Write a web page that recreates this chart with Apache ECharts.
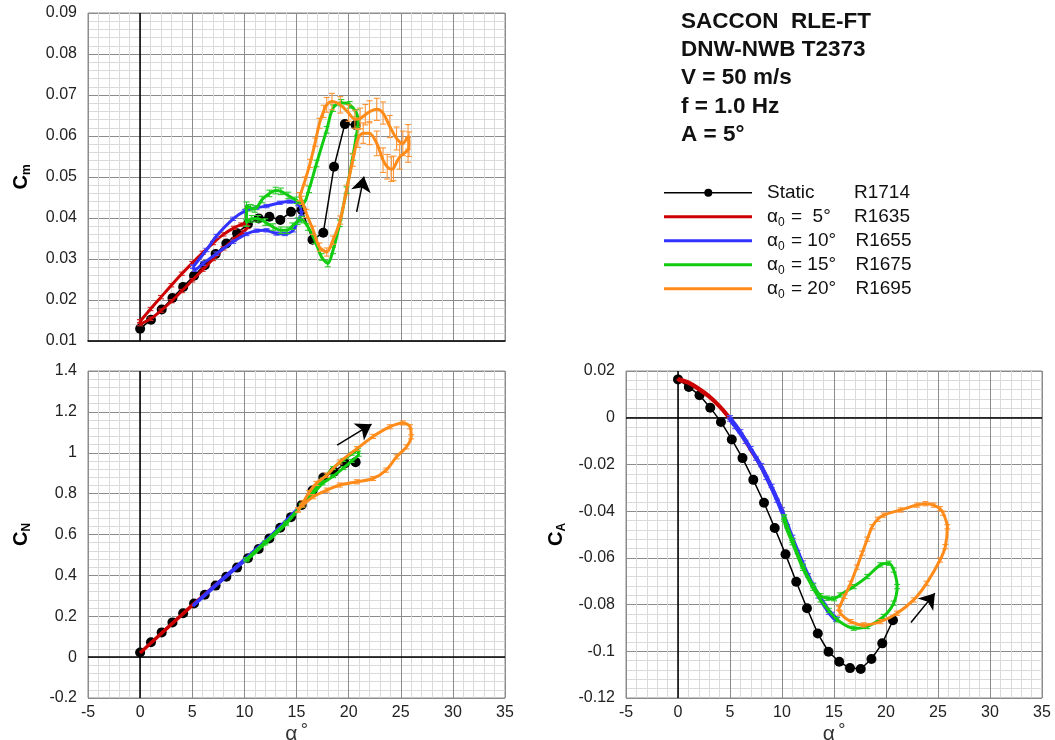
<!DOCTYPE html>
<html><head><meta charset="utf-8">
<script src="https://cdn.jsdelivr.net/npm/echarts@6/dist/echarts.min.js"></script>
<style>html,body{margin:0;padding:0;background:#fff}#c{width:1055px;height:740px}</style>
</head><body><div id="c"></div>
<script>
// ---------------- DATA ----------------
const xTicks = [-5, 0, 5, 10, 15, 20, 25, 30, 35];
const staticAlpha = [0, 1.04, 2.07, 3.1, 4.13, 5.17, 6.2, 7.24, 8.27, 9.3, 10.34, 11.37, 12.4, 13.44, 14.47, 15.5, 16.54, 17.57, 18.6, 19.64, 20.67];
const cmStatic = [0.013, 0.0152, 0.0177, 0.0205, 0.0232, 0.0259, 0.0285, 0.0312, 0.0338, 0.0363, 0.0385, 0.0399, 0.0403, 0.0395, 0.0415, 0.0420, 0.0347, 0.0364, 0.0525, 0.0629, 0.0627];
const cnStatic = [0.023, 0.073, 0.121, 0.170, 0.215, 0.262, 0.305, 0.350, 0.393, 0.438, 0.484, 0.529, 0.581, 0.633, 0.685, 0.744, 0.815, 0.879, 0.907, 0.948, 0.954];
const caStatic = [0.0164, 0.0132, 0.0096, 0.0043, -0.0018, -0.0093, -0.0173, -0.0266, -0.0364, -0.0472, -0.0585, -0.0702, -0.0816, -0.0924, -0.1002, -0.1045, -0.1072, -0.1076, -0.1033, -0.0966, -0.0867];

// Cm loops [alpha, Cm] (orange also carries the error half-width)
const cmA5 = [[0,0.0148],[1,0.0178],[2,0.0207],[3,0.0236],[4,0.0264],[5,0.0290],[6,0.0315],[7,0.0339],[8,0.0360],[9,0.0376],[9.7,0.0384],[10.2,0.0386],[10.3,0.0378],[9.9,0.0366],[9,0.0348],[8,0.0326],[7,0.0300],[6,0.0274],[5,0.0248],[4,0.0222],[3,0.0197],[2,0.0174],[1,0.0154],[0,0.0141],[0,0.0148]];
const cmA10 = [[5.08,0.0281],[6.36,0.0322],[7.32,0.0356],[8.92,0.0398],[10.04,0.0417],[11.16,0.0425],[12.12,0.0429],[13.4,0.0437],[14.36,0.0440],[15.16,0.0434],[15.48,0.0411],[15.16,0.0395],[14.68,0.0370],[13.88,0.0361],[13.08,0.0362],[12.12,0.0370],[11.16,0.0369],[10.2,0.0361],[8.92,0.0342],[7.32,0.0313],[6.04,0.0289],[5.24,0.0274],[5.08,0.0281]];
const cmA15 = [[10.2,0.0388],[10.7,0.0398],[11.3,0.0398],[12.0,0.0390],[12.75,0.0378],[13.5,0.0370],[14.1,0.0370],[14.6,0.0380],[15.1,0.0392],[15.5,0.0396],[16.1,0.0378],[16.75,0.0346],[17.4,0.0305],[18.0,0.0289],[18.5,0.0321],[19.15,0.0387],[19.8,0.0468],[20.4,0.0549],[20.8,0.0610],[20.9,0.0631],[20.76,0.0656],[20.1,0.0676],[19.3,0.0681],[18.5,0.0668],[17.9,0.0615],[16.92,0.0533],[16.2,0.0470],[15.63,0.0435],[15.0,0.0443],[14.2,0.0455],[13.5,0.0465],[13.0,0.0467],[12.4,0.0460],[11.7,0.0445],[11.0,0.0422],[10.6,0.0425],[10.2,0.0431],[10.2,0.0388]];
const cmA20 = [[15.3,0.0452,0.001],[15.8,0.0490,0.001],[16.3,0.0533,0.001],[16.8,0.0585,0.001],[17.2,0.0631,0.0012],[17.6,0.0660,0.0015],[17.9,0.0676,0.0018],[18.4,0.0684,0.002],[19.2,0.0676,0.002],[20.0,0.0656,0.002],[20.6,0.0641,0.0022],[21.1,0.0643,0.0025],[21.6,0.0652,0.0025],[22.0,0.0659,0.0027],[22.7,0.0665,0.0027],[23.3,0.0656,0.0027],[23.95,0.0623,0.0027],[24.6,0.0594,0.0028],[25.2,0.0582,0.003],[25.7,0.0598,0.003],[25.8,0.0580,0.003],[25.7,0.0566,0.003],[24.9,0.0549,0.003],[24.3,0.0521,0.003],[24.1,0.0519,0.003],[23.7,0.0525,0.003],[23.3,0.0541,0.003],[22.7,0.0582,0.003],[22.0,0.0607,0.0028],[21.4,0.0607,0.0025],[20.9,0.0594,0.0022],[20.4,0.0541,0.0015],[19.8,0.0468,0.0012],[19.2,0.0395,0.001],[18.5,0.0346,0.001],[17.9,0.0317,0.001],[17.2,0.0329,0.001],[16.6,0.0370,0.001],[15.95,0.0411,0.001],[15.5,0.0443,0.001],[15.3,0.0452,0.001]];

// CN loops [alpha, CN]
const cnA5 = [[0,0.022],[2.5,0.140],[5,0.256],[7.5,0.366],[10.1,0.478],[10.2,0.474],[7.5,0.362],[5,0.252],[2.5,0.136],[0,0.019],[0,0.022]];
const cnA10 = [[5.1,0.256],[7.5,0.366],[10,0.478],[12.5,0.592],[15.3,0.735],[15.4,0.727],[12.5,0.585],[10,0.470],[7.5,0.360],[5.1,0.251],[5.1,0.256]];
const cnA15 = [[10.2,0.480],[12,0.563],[14,0.658],[15.5,0.745],[16.5,0.81],[17.5,0.87],[18.5,0.925],[19.5,0.965],[20.3,0.995],[20.9,1.015],[20.95,0.99],[20.3,0.96],[19.5,0.925],[18.5,0.885],[17.5,0.85],[16.5,0.795],[15.5,0.740],[14,0.652],[12,0.556],[10.2,0.473],[10.2,0.480]];
const cnA20 = [[15.15,0.72],[15.6,0.755],[16.2,0.805],[16.9,0.85],[17.9,0.89],[19.15,0.955],[20.8,1.02],[22.35,1.08],[23.95,1.127],[25.2,1.146],[25.9,1.127],[26.0,1.078],[25.55,1.029],[24.6,0.98],[23.6,0.915],[22.35,0.874],[20.8,0.858],[19.15,0.842],[17.9,0.817],[16.6,0.785],[15.6,0.744],[15.15,0.72]];

// CA loops [alpha, CA]
const caA5 = [[0,0.0168],[1,0.0153],[2,0.0127],[3,0.0094],[4,0.0052],[5,0.0000],[6,-0.0060],[7,-0.0133],[8,-0.0205],[9,-0.0295],[10,-0.0393],[10.1,-0.0400],[9,-0.0303],[8,-0.0213],[7,-0.0141],[6,-0.0068],[5,-0.0008],[4,0.0045],[3,0.0087],[2,0.0120],[1,0.0147],[0,0.0163],[0,0.0168]];
const caA10 = [[5,0.0002],[6,-0.0058],[7,-0.0130],[8,-0.0203],[9,-0.0292],[10,-0.0392],[11,-0.0510],[12,-0.0620],[13,-0.0715],[14,-0.0790],[14.8,-0.0840],[15.3,-0.0860],[15.2,-0.0866],[14.5,-0.0835],[13.5,-0.0765],[12.5,-0.0675],[11.5,-0.0575],[10.5,-0.0465],[9.5,-0.0355],[8.5,-0.0258],[7.5,-0.0175],[6.5,-0.0103],[5.5,-0.0040],[5,-0.0008],[5,0.0002]];
const caA15 = [[10.2,-0.0425],[11,-0.0525],[12,-0.0635],[13,-0.0720],[13.7,-0.0762],[14.35,-0.0773],[15.0,-0.0775],[15.6,-0.0759],[16.9,-0.0723],[18.2,-0.0680],[19.46,-0.0630],[20.26,-0.0623],[20.74,-0.0652],[21.07,-0.0723],[20.74,-0.0794],[19.78,-0.0851],[18.2,-0.0894],[16.9,-0.0901],[15.3,-0.0865],[14.5,-0.0825],[13.7,-0.0780],[13,-0.0730],[12,-0.0645],[11,-0.0535],[10.2,-0.0435],[10.2,-0.0425]];
const caA20 = [[15.47,-0.0815],[16.0,-0.0765],[16.6,-0.0709],[17.2,-0.0640],[17.7,-0.0580],[18.2,-0.0520],[18.67,-0.0467],[19.2,-0.0435],[19.78,-0.0417],[21.4,-0.0395],[23.0,-0.0374],[23.8,-0.0368],[24.6,-0.0374],[25.2,-0.0390],[25.5,-0.0409],[25.9,-0.0467],[25.7,-0.0552],[25.2,-0.0609],[23.9,-0.0709],[22.66,-0.0780],[21.07,-0.0837],[19.46,-0.0873],[17.86,-0.0887],[16.6,-0.0873],[15.6,-0.0837],[15.47,-0.0815]];

// constant error half-widths for series without per-point errors
const errCmA5 = 0.0004, errCmA10 = 0.0004, errCmA15 = 0.0008;
const errCnA15 = 0.007, errCnA20 = 0.010;
const errCaA10 = 0.0007, errCaA15 = 0.0009, errCaA20 = 0.0009;

// direction arrows [tail, head]
const cmArrow = [[20.77, 0.0415], [21.47, 0.0501]];
const cnArrow = [[18.9, 1.037], [22.2, 1.14]];
const caArrow = [[22.4, -0.0877], [24.7, -0.0751]];

// legend / info text
const infoLines = ['SACCON  RLE-FT', 'DNW-NWB T2373', 'V = 50 m/s', 'f = 1.0 Hz', 'A = 5°'];
const legendAlpha0 = [null, ' 5', '10', '15', '20'];
const legendRuns = ['R1714', 'R1635', 'R1655', 'R1675', 'R1695'];

// ---------------- STYLE ----------------
const FONT = 'Liberation Sans, Arial, Helvetica, sans-serif';
const COLORS = ['#000000', '#cc0000', '#3333ff', '#11cc11', '#ff8c1a'];
const ERRCOLORS = ['#000', '#d42a2a', '#5555ff', '#2ccc2c', '#ff9433'];
const MAJOR = '#8c8c8c', MINOR = '#dadada';

const chart = echarts.init(document.getElementById('c'), null, {renderer: 'canvas'});

function xAxisCfg(gi, showLabels) {
  return {
    type: 'value', gridIndex: gi, min: -5, max: 35, interval: 5,
    axisLine: {show: !showLabels, onZero: false, lineStyle: {color: '#000', width: 1.5}},
    axisTick: {show: false},
    axisLabel: {show: showLabels, fontSize: 16, color: '#222', fontFamily: FONT, margin: 7},
    splitLine: {show: true, lineStyle: {color: MAJOR, width: 1}},
    minorTick: {show: false, splitNumber: 5},
    minorSplitLine: {show: true, lineStyle: {color: MINOR, width: 1}},
    name: showLabels ? '{a|α} {d|°}' : '',
    nameLocation: 'middle', nameGap: 22,
    nameTextStyle: {fontFamily: FONT, color: '#333', rich: {a: {fontSize: 21, fontFamily: FONT, color: '#333'}, d: {fontSize: 18, fontFamily: FONT, color: '#333', verticalAlign: 'top', padding: [0, 0, 6, 0]}}},
    z: 1
  };
}
function yAxisCfg(gi, min, max, interval, sub, gap) {
  return {
    type: 'value', gridIndex: gi, min: min, max: max, interval: interval,
    axisLine: {show: false},
    axisTick: {show: false},
    axisLabel: {fontSize: 16, color: '#222', fontFamily: FONT, margin: 11},
    splitLine: {show: true, lineStyle: {color: MAJOR, width: 1}},
    minorTick: {show: false, splitNumber: 5},
    minorSplitLine: {show: true, lineStyle: {color: MINOR, width: 1}},
    name: '{c|C}{s|' + sub + '}',
    nameLocation: 'middle', nameRotate: 90, nameGap: gap,
    nameTextStyle: {rich: {
      c: {fontSize: 20, fontWeight: 'bold', fontFamily: FONT, color: '#000', lineHeight: 24},
      s: {fontSize: 12, fontWeight: 'bold', fontFamily: FONT, color: '#000', lineHeight: 24, verticalAlign: 'bottom', padding: [9, 0, 0, 0]}
    }},
    z: 1
  };
}

function lineSeries(data, gi, ci, z, smooth) {
  return {type: 'line', xAxisIndex: gi, yAxisIndex: gi, data: data, symbol: 'none', showSymbol: false,
    smooth: smooth, lineStyle: {color: COLORS[ci], width: 3}, itemStyle: {color: COLORS[ci]}, z: z, silent: true};
}
function staticSeries(vals, gi, zeroLines) {
  return {type: 'line', xAxisIndex: gi, yAxisIndex: gi, data: staticAlpha.map((a, i) => [a, vals[i]]),
    symbol: 'circle', symbolSize: 10, itemStyle: {color: '#000'}, lineStyle: {color: '#000', width: 1.5}, z: 4, silent: true,
    markLine: {silent: true, symbol: 'none', animation: false, label: {show: false},
      lineStyle: {color: '#000', width: 1.5, type: 'solid'}, data: zeroLines}};
}
function errSeries(data, gi, ci, constErr, z) {
  return {type: 'custom', xAxisIndex: gi, yAxisIndex: gi, silent: true, z: z,
    data: data.map(p => [p[0], p[1], p.length > 2 ? p[2] : constErr]),
    renderItem: function (params, api) {
      const x = api.value(0), y = api.value(1), e = api.value(2);
      const t = api.coord([x, y + e]), b = api.coord([x, y - e]);
      const w = 3, st = {stroke: ERRCOLORS[ci], lineWidth: 1.1};
      return {type: 'group', children: [
        {type: 'line', shape: {x1: t[0], y1: t[1], x2: b[0], y2: b[1]}, style: st},
        {type: 'line', shape: {x1: t[0] - w, y1: t[1], x2: t[0] + w, y2: t[1]}, style: st},
        {type: 'line', shape: {x1: b[0] - w, y1: b[1], x2: b[0] + w, y2: b[1]}, style: st}
      ]};
    }};
}
function arrowSeries(arrow, gi) {
  return {type: 'lines', coordinateSystem: 'cartesian2d', xAxisIndex: gi, yAxisIndex: gi, silent: true, z: 20,
    symbol: ['none', 'arrow'], symbolSize: [10, 15],
    lineStyle: {color: '#000', width: 1.5, opacity: 1}, data: [{coords: arrow}]};
}

const series = [];
function addPlot(gi, st, loops, errs, arrow, zeroLines, smooth) {
  series.push(staticSeries(st, gi, zeroLines));
  loops.forEach((d, k) => {
    const ci = k + 1;
    if (errs[k] !== null) series.push(errSeries(d, gi, ci, errs[k], 4 + ci * 2));
    series.push(lineSeries(d, gi, ci, 5 + ci * 2, smooth[k]));
  });
  series.push(arrowSeries(arrow, gi));
}
addPlot(0, cmStatic, [cmA5, cmA10, cmA15, cmA20], [errCmA5, errCmA10, errCmA15, 0], cmArrow, [{xAxis: 0}], [0.3, 0.3, 0.3, 0.3]);
addPlot(1, cnStatic, [cnA5, cnA10, cnA15, cnA20], [null, null, errCnA15, errCnA20], cnArrow, [{xAxis: 0}, {yAxis: 0}], [0, 0, 0.15, 0.3]);
addPlot(2, caStatic, [caA5, caA10, caA15, caA20], [null, errCaA10, errCaA15, errCaA20], caArrow, [{xAxis: 0}, {yAxis: 0}], [0.3, 0.3, 0.3, 0.3]);

// legend drawn as graphics
const graphics = [];
legendRuns.forEach((run, i) => {
  const y = 192.7 + i * 24;
  graphics.push({type: 'line', shape: {x1: 664, y1: y, x2: 752, y2: y}, style: {stroke: COLORS[i], lineWidth: i === 0 ? 1.5 : 3}, silent: true});
  if (i === 0) graphics.push({type: 'circle', shape: {cx: 708.3, cy: y, r: 4}, style: {fill: '#000'}, silent: true});
  const label = i === 0 ? '{n|Static}' : '{n|α}{s|0}{n| = ' + legendAlpha0[i] + '°}';
  graphics.push({type: 'text', x: 767, y: y, silent: true, style: {text: label, verticalAlign: 'middle', fill: '#111',
    rich: {n: {fontSize: 19, fontFamily: FONT, fill: '#111', lineHeight: 24},
           s: {fontSize: 12, fontFamily: FONT, fill: '#111', lineHeight: 24, verticalAlign: 'bottom', padding: [10, 1, 0, 0]}}}});
  graphics.push({type: 'text', x: i < 2 ? 854 : 855.5, y: y, silent: true, style: {text: run, verticalAlign: 'middle', fill: '#111', fontSize: 19, fontFamily: FONT}});
});

const gridBase = {show: true, borderColor: MAJOR, borderWidth: 1, backgroundColor: 'transparent', containLabel: false, outerBoundsMode: 'none'};
const option = {
  animation: false,
  backgroundColor: '#fff',
  title: {text: infoLines.join('\n'), left: 681, top: 8, padding: 0,
    textStyle: {fontSize: 22.5, fontWeight: 'bold', fontFamily: FONT, color: '#111', lineHeight: 28.1}},
  grid: [
    Object.assign({left: 88, top: 13, width: 417, height: 328}, gridBase),
    Object.assign({left: 88, top: 371, width: 417, height: 327}, gridBase),
    Object.assign({left: 626, top: 371, width: 416, height: 327}, gridBase)
  ],
  xAxis: [xAxisCfg(0, false), xAxisCfg(1, true), xAxisCfg(2, true)],
  yAxis: [yAxisCfg(0, 0.01, 0.09, 0.01, 'm', 55), yAxisCfg(1, -0.2, 1.4, 0.2, 'N', 55), yAxisCfg(2, -0.12, 0.02, 0.02, 'A', 58)],
  series: series,
  graphic: graphics
};
chart.setOption(option);
</script></body></html>
